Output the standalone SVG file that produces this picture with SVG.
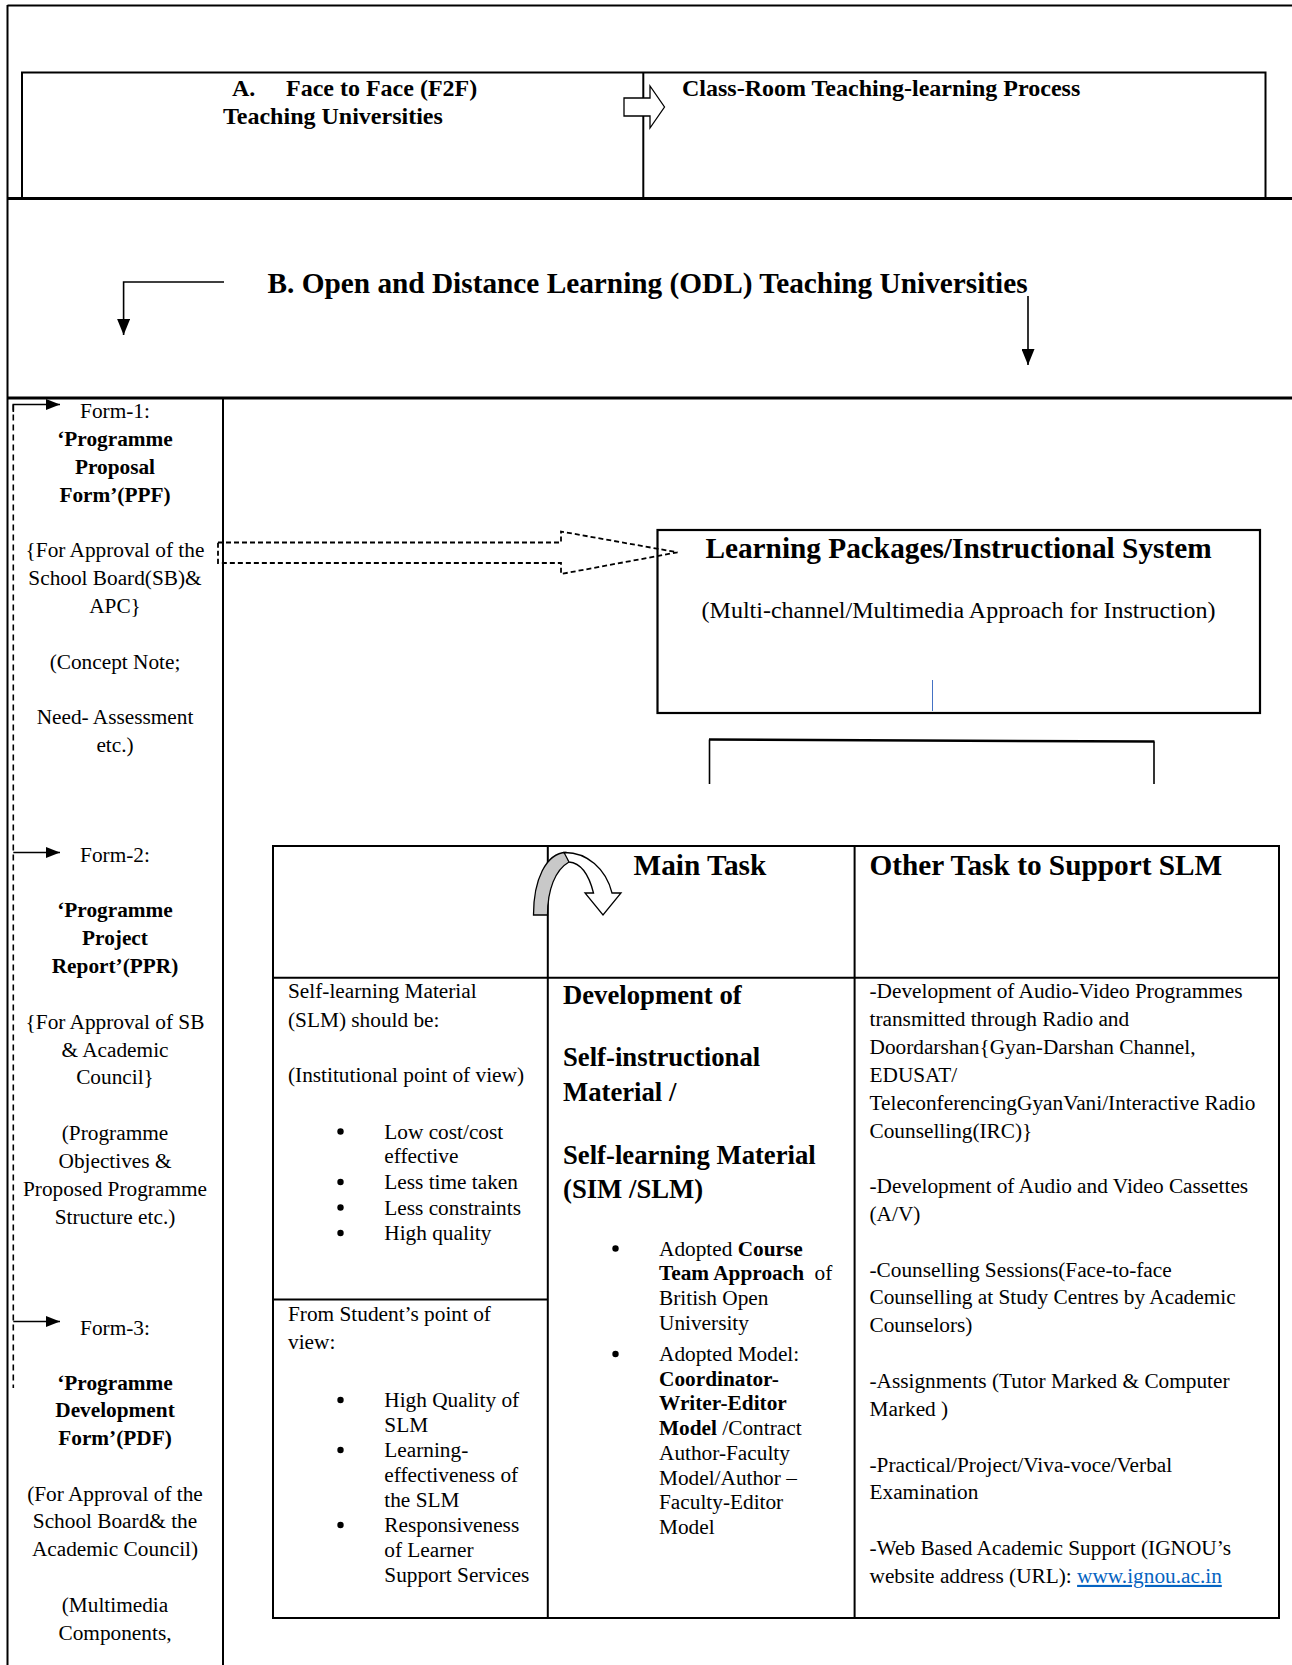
<svg xmlns="http://www.w3.org/2000/svg" width="1292" height="1665" viewBox="0 0 1292 1665">
<style>
.t{font-family:"Liberation Serif","Times New Roman",serif;font-size:21.3px;fill:#000}
.b{font-weight:bold}
.c{text-anchor:middle}
.h{font-size:29.3px;font-weight:bold}
.m{font-size:26.7px;font-weight:bold}
.a{font-size:24px;font-weight:bold}
.s{font-size:24px}
.ln{stroke:#000;stroke-width:2;fill:none}
.thk{stroke:#000;stroke-width:3;fill:none}
.con{stroke:#000;stroke-width:1.6;fill:none}
.dot{fill:#000}
</style>
<defs>
<marker id="ah" markerUnits="userSpaceOnUse" markerWidth="14" markerHeight="11" refX="14" refY="5.5" orient="auto">
<path d="M0,0 L14,5.5 L0,11 z" fill="#000"/>
</marker>
<marker id="ahb" markerUnits="userSpaceOnUse" markerWidth="16" markerHeight="13" refX="16" refY="6.5" orient="auto">
<path d="M0,0 L16,6.5 L0,13 z" fill="#000"/>
</marker>
</defs>
<rect width="1292" height="1665" fill="#fff"/>

<g id="frame">
<line class="ln" x1="7.5" y1="5.5" x2="1292" y2="5.5"/>
<line class="ln" x1="7.5" y1="5" x2="7.5" y2="1665"/>
<line class="thk" x1="7" y1="198.5" x2="1292" y2="198.5"/>
<line class="thk" x1="7" y1="398" x2="1292" y2="398"/>
<line class="ln" x1="223" y1="398" x2="223" y2="1665"/>
</g>

<g id="nodeA">
<rect class="ln" x="22" y="72.5" width="1243.5" height="126"/>
<text class="t a" x="232" y="96">A.</text>
<text class="t a" x="286" y="96">Face to Face (F2F)</text>
<text class="t a" x="223" y="123.5">Teaching Universities</text>
</g>
<g id="nodeA2">
<line class="ln" x1="643.3" y1="72.5" x2="643.3" y2="198.5"/>
<text class="t a" x="682" y="96">Class-Room Teaching-learning Process</text>
</g>

<g id="nodeB">
<text class="t h" x="267.5" y="293">B. Open and Distance Learning (ODL) Teaching Universities</text>
</g>

<g id="form1">
<text class="t c" x="115" y="418">Form-1:</text>
<text class="t c b" x="115" y="445.9">‘Programme</text>
<text class="t c b" x="115" y="474">Proposal</text>
<text class="t c b" x="115" y="502">Form’(PPF)</text>
<text class="t c" x="115" y="557.3">{For Approval of the</text>
<text class="t c" x="115" y="585.3">School Board(SB)&amp;</text>
<text class="t c" x="115" y="613.3">APC}</text>
<text class="t c" x="115" y="668.7">(Concept Note;</text>
<text class="t c" x="115" y="724.4">Need- Assessment</text>
<text class="t c" x="115" y="752.2">etc.)</text>
</g>

<g id="form2">
<text class="t c" x="115" y="861.5">Form-2:</text>
<text class="t c b" x="115" y="917.2">‘Programme</text>
<text class="t c b" x="115" y="945.1">Project</text>
<text class="t c b" x="115" y="972.9">Report’(PPR)</text>
<text class="t c" x="115" y="1028.6">{For Approval of SB</text>
<text class="t c" x="115" y="1056.5">&amp; Academic</text>
<text class="t c" x="115" y="1084.3">Council}</text>
<text class="t c" x="115" y="1140.2">(Programme</text>
<text class="t c" x="115" y="1168.1">Objectives &amp;</text>
<text class="t c" x="115" y="1196">Proposed Programme</text>
<text class="t c" x="115" y="1224">Structure etc.)</text>
</g>

<g id="form3">
<text class="t c" x="115" y="1335">Form-3:</text>
<text class="t c b" x="115" y="1389.5">‘Programme</text>
<text class="t c b" x="115" y="1417.3">Development</text>
<text class="t c b" x="115" y="1445.1">Form’(PDF)</text>
<text class="t c" x="115" y="1500.6">(For Approval of the</text>
<text class="t c" x="115" y="1528.4">School Board&amp; the</text>
<text class="t c" x="115" y="1556.2">Academic Council)</text>
<text class="t c" x="115" y="1611.8">(Multimedia</text>
<text class="t c" x="115" y="1639.6">Components,</text>
</g>

<g id="learningPackages">
<rect x="657.5" y="530" width="602.5" height="183" fill="#fff" stroke="#000" stroke-width="2.2"/>
<text class="t h c" x="958.5" y="558">Learning Packages/Instructional System</text>
<text class="t s c" x="958.5" y="618">(Multi-channel/Multimedia Approach for Instruction)</text>
<line x1="932.5" y1="680" x2="932.5" y2="711" stroke="#4472c4" stroke-width="1"/>
</g>

<g id="table">
<rect class="ln" x="273" y="846" width="1006" height="772"/>
<line class="ln" x1="547.8" y1="846" x2="547.8" y2="1618"/>
<line class="ln" x1="854.6" y1="846" x2="854.6" y2="1618"/>
<line class="ln" x1="273" y1="977.7" x2="1279" y2="977.7"/>
<line class="ln" x1="273" y1="1299.4" x2="547.8" y2="1299.4"/>
</g>

<g id="mainTask">
<text class="t h" x="633.5" y="875">Main Task</text>
</g>
<g id="otherTask">
<text class="t h" x="869.5" y="875">Other Task to Support SLM</text>
</g>

<g id="slmInstitutional">
<text class="t" x="288" y="997.5">Self-learning Material</text>
<text class="t" x="288" y="1026.5">(SLM) should be:</text>
<text class="t" x="288" y="1081.5">(Institutional point of view)</text>
<circle class="dot" cx="340.5" cy="1131.5" r="3.2"/>
<text class="t" x="384.3" y="1138.5">Low cost/cost</text>
<text class="t" x="384.3" y="1163">effective</text>
<circle class="dot" cx="340.5" cy="1182" r="3.2"/>
<text class="t" x="384.3" y="1189">Less time taken</text>
<circle class="dot" cx="340.5" cy="1207.5" r="3.2"/>
<text class="t" x="384.3" y="1214.5">Less constraints</text>
<circle class="dot" cx="340.5" cy="1233" r="3.2"/>
<text class="t" x="384.3" y="1240">High quality</text>
</g>

<g id="slmStudent">
<text class="t" x="288" y="1321">From Student’s point of</text>
<text class="t" x="288" y="1348.8">view:</text>
<circle class="dot" cx="340.5" cy="1400" r="3.2"/>
<text class="t" x="384.3" y="1407">High Quality of</text>
<text class="t" x="384.3" y="1432">SLM</text>
<circle class="dot" cx="340.5" cy="1450" r="3.2"/>
<text class="t" x="384.3" y="1457">Learning-</text>
<text class="t" x="384.3" y="1482">effectiveness of</text>
<text class="t" x="384.3" y="1507">the SLM</text>
<circle class="dot" cx="340.5" cy="1525" r="3.2"/>
<text class="t" x="384.3" y="1532">Responsiveness</text>
<text class="t" x="384.3" y="1557">of Learner</text>
<text class="t" x="384.3" y="1582">Support Services</text>
</g>

<g id="slmDevelopment">
<text class="t m" x="563" y="1003.5">Development of</text>
<text class="t m" x="563" y="1066">Self-instructional</text>
<text class="t m" x="563" y="1100.7">Material /</text>
<text class="t m" x="563" y="1163.5">Self-learning Material</text>
<text class="t m" x="563" y="1198">(SIM /SLM)</text>
<circle class="dot" cx="615.5" cy="1248.5" r="3.2"/>
<text class="t" x="659" y="1255.5">Adopted <tspan class="b">Course</tspan></text>
<text class="t" x="659" y="1280.2"><tspan class="b">Team Approach</tspan><tspan dx="10.5">of</tspan></text>
<text class="t" x="659" y="1305">British Open</text>
<text class="t" x="659" y="1329.7">University</text>
<circle class="dot" cx="615.5" cy="1354" r="3.2"/>
<text class="t" x="659" y="1361">Adopted Model:</text>
<text class="t b" x="659" y="1385.7">Coordinator-</text>
<text class="t b" x="659" y="1410.4">Writer-Editor</text>
<text class="t" x="659" y="1435.1"><tspan class="b">Model</tspan> /Contract</text>
<text class="t" x="659" y="1459.8">Author-Faculty</text>
<text class="t" x="659" y="1484.5">Model/Author –</text>
<text class="t" x="659" y="1509.2">Faculty-Editor</text>
<text class="t" x="659" y="1533.9">Model</text>
</g>

<g id="supportTasks">
<text class="t" x="869.5" y="997.5">-Development of Audio-Video Programmes</text>
<text class="t" x="869.5" y="1025.6">transmitted through Radio and</text>
<text class="t" x="869.5" y="1054">Doordarshan{Gyan-Darshan Channel,</text>
<text class="t" x="869.5" y="1081.6">EDUSAT/</text>
<text class="t" x="869.5" y="1109.5">TeleconferencingGyanVani/Interactive Radio</text>
<text class="t" x="869.5" y="1137.5">Counselling(IRC)}</text>
<text class="t" x="869.5" y="1193">-Development of Audio and Video Cassettes</text>
<text class="t" x="869.5" y="1220.8">(A/V)</text>
<text class="t" x="869.5" y="1276.6">-Counselling Sessions(Face-to-face</text>
<text class="t" x="869.5" y="1304.4">Counselling at Study Centres by Academic</text>
<text class="t" x="869.5" y="1332.2">Counselors)</text>
<text class="t" x="869.5" y="1387.9">-Assignments (Tutor Marked &amp; Computer</text>
<text class="t" x="869.5" y="1415.8">Marked )</text>
<text class="t" x="869.5" y="1471.5">-Practical/Project/Viva-voce/Verbal</text>
<text class="t" x="869.5" y="1499.3">Examination</text>
<text class="t" x="869.5" y="1555">-Web Based Academic Support (IGNOU’s</text>
<text class="t" x="869.5" y="1582.9">website address (URL): <tspan fill="#0563c1" text-decoration="underline">www.ignou.ac.in</tspan></text>
</g>

<g id="connectors">
<path d="M624,98 L650,98 L650,86 L664.5,107 L650,128 L650,116 L624,116 Z" fill="#fff" stroke="#000" stroke-width="1.3"/>
<polyline class="con" points="224,282 123.6,282 123.6,335" marker-end="url(#ahb)"/>
<line class="con" x1="1028" y1="296" x2="1028" y2="365" marker-end="url(#ahb)"/>
<line x1="13.3" y1="404.5" x2="13.3" y2="1388" stroke="#000" stroke-width="1.6" stroke-dasharray="6 4"/>
<polyline class="con" points="13.3,412 13.3,404.5 60,404.5" marker-end="url(#ah)"/>
<line class="con" x1="13.3" y1="852.5" x2="60" y2="852.5" marker-end="url(#ah)"/>
<line class="con" x1="13.3" y1="1321.5" x2="60" y2="1321.5" marker-end="url(#ah)"/>
<path d="M218,542.5 L561,542.5 L561,531.5 L677.5,552.3 L561,574 L561,563 L218,563 Z" fill="none" stroke="#000" stroke-width="1.8" stroke-dasharray="5 3"/>
<line x1="709" y1="739.5" x2="1154.5" y2="741.5" stroke="#000" stroke-width="2.5"/>
<line x1="709.5" y1="739.5" x2="709.5" y2="784" stroke="#000" stroke-width="1.6"/>
<line x1="1154" y1="741.5" x2="1154" y2="784" stroke="#000" stroke-width="1.6"/>
<path d="M533.5,915 L547.5,915 C547.5,890 555,870 569,862 L566,852.5 C546,853 533.5,880 533.5,915 Z" fill="#c8c8c8" stroke="#000" stroke-width="1.3"/>
<path d="M564,852.5 C587,852 606,869 612,893 L621,893 L603,915 L585,893 L593.5,893 C589,875 581,863 569,862 Z" fill="#fff" stroke="#000" stroke-width="1.3"/>
</g>
</svg>
